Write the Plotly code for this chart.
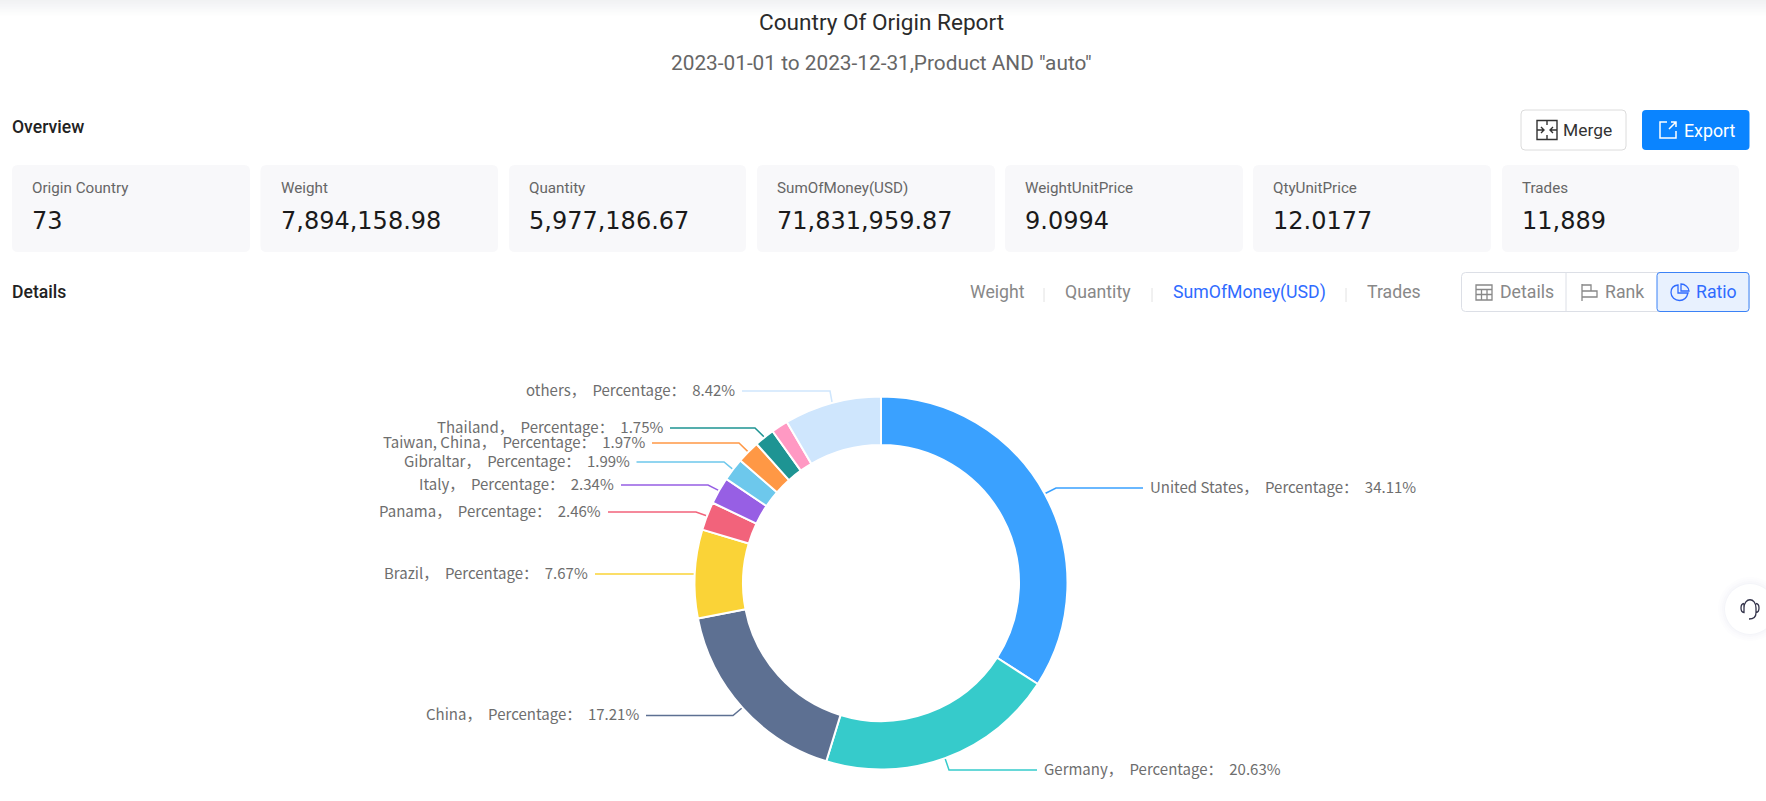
import math
import plotly.graph_objects as go

# ---------- data ----------
categories = ["United States", "Germany", "China", "Brazil", "Panama", "Italy", "Gibraltar",
              "Taiwan, China", "Thailand", "(no label)", "others"]
shares = [34.11, 20.63, 17.21, 7.67, 2.46, 2.34, 1.99, 1.97, 1.75, 1.45, 8.42]
card_titles = ["Origin Country", "Weight", "Quantity", "SumOfMoney(USD)", "WeightUnitPrice", "QtyUnitPrice", "Trades"]
card_values = ["73", "7,894,158.98", "5,977,186.67", "71,831,959.87", "9.0994", "12.0177", "11,889"]
metric_tabs = ["Weight", "Quantity", "SumOfMoney(USD)", "Trades"]
view_tabs = ["Details", "Rank", "Ratio"]
report_title = "Country Of Origin Report"
report_subtitle = '2023-01-01 to 2023-12-31,Product AND "auto"'

# ---------- styles / layout ----------
W, H = 1766, 801
colors = ["#3AA1FF", "#36CBCB", "#5D7092", "#FAD337", "#F2637B", "#975FE4", "#6DC8EC",
          "#FF9845", "#1E9493", "#FF99C3", "#CFE6FD"]
CX, CY, R = 881, 583, 186.5
LEADER_R = 187
HOLE = 0.74
UI = "Roboto"
LBL = "Noto Sans CJK SC"

# label placement: category -> (label y, elbow x, end x of leader)
leader = {
    "United States": (488, 1056, 1143),
    "Germany": (770, 949, 1037),
    "China": (715.5, 733, 646),
    "Brazil": (574, 694, 595),
    "Panama": (512, 696, 608),
    "Italy": (485, 708, 621),
    "Gibraltar": (462, 724, 636.5),
    "Taiwan, China": (443, 739, 652),
    "Thailand": (428, 755, 670),
    "others": (391, 830, 742),
}

card_x = [(12, 250), (260.5, 498), (509, 746), (757, 995), (1005, 1243), (1253, 1491), (1502, 1739)]
tab_x = [970, 1065, 1173, 1367]
tab_sep = [1044, 1152, 1346]
view_text_x = [1500, 1605, 1696]


def rrect(x0, y0, x1, y1, r):
    return (f"M{x0+r},{y0} L{x1-r},{y0} Q{x1},{y0} {x1},{y0+r} L{x1},{y1-r} Q{x1},{y1} {x1-r},{y1} "
            f"L{x0+r},{y1} Q{x0},{y1} {x0},{y1-r} L{x0},{y0+r} Q{x0},{y0} {x0+r},{y0} Z")


shapes = []
annotations = []


def path(d, fill=None, line=None, width=1):
    s = dict(type="path", xref="x", yref="y", path=d, layer="below",
             line=dict(color=line or "rgba(0,0,0,0)", width=width if line else 0))
    if fill:
        s["fillcolor"] = fill
    shapes.append(s)


def text(x, y, t, size=14, color="#666666", anchor="left", family=UI, weight=None):
    f = dict(family=family, size=size, color=color)
    if weight:
        f["weight"] = weight
    annotations.append(dict(xref="x", yref="y", x=x, y=y, text=t, showarrow=False, xanchor=anchor,
                            yanchor="middle", font=f, align=anchor, borderpad=0, borderwidth=0))


# top page shadow
for i in range(16):
    a = 0.085 * (1 - i / 16)
    path(f"M0,{i} L{W},{i} L{W},{i+1} L0,{i+1} Z", fill=f"rgba(90,100,120,{a:.3f})")

# header
text(CX, 22, report_title, size=22.6, color="#2b2b2b", anchor="center")
text(CX, 63, report_subtitle, size=20.8, color="#666666", anchor="center")
text(12, 127, "Overview", size=17.6, color="#222222", weight=500)
text(12, 292, "Details", size=17.6, color="#222222", weight=500)

# cards
for (x0, x1), t, v in zip(card_x, card_titles, card_values):
    path(rrect(x0, 165, x1, 252, 6), fill="#F8F8FA")
    text(x0 + 20, 188, t, size=15.2, color="#666666")
    text(x0 + 20, 221, v, size=24, color="#1A1A1A", family="DejaVu Sans", weight=500)

# merge / export buttons
path(rrect(1521, 110, 1626, 150, 4), fill="#FFFFFF", line="#DCDCDC", width=1)
text(1562.5, 130, "Merge", size=17.4, color="#333333")
path("M1537,120.5 L1557,120.5 L1557,139.5 L1537,139.5 Z M1547,120.5 L1547,125 M1547,135 L1547,139.5 "
     "M1537,130 L1544,130 M1550,130 L1557,130 M1541,127 L1544,130 L1541,133 M1553,127 L1550,130 L1553,133",
     line="#333333", width=1.4)
path(rrect(1642, 110, 1749.5, 150, 4), fill="#0A84FF")
text(1684, 130, "Export", size=17.8, color="#FFFFFF")
path("M1667,122 L1660,122 L1660,138 L1676,138 L1676,131 M1669,129 L1676,122 M1671,122 L1676,122 L1676,127",
     line="#FFFFFF", width=1.5)

# metric tabs
for x, t in zip(tab_x, metric_tabs):
    text(x, 292, t, size=17.7, color="#2F6BFF" if t == "SumOfMoney(USD)" else "#888888")
for x in tab_sep:
    path(f"M{x},288 L{x},302", line="#E2E2E2", width=1)

# view switch
path(rrect(1461.5, 272.5, 1749, 311.5, 4), fill="#FFFFFF", line="#DCDFE6", width=1)
path(f"M1566,272.5 L1566,311.5", line="#DCDFE6", width=1)
path(rrect(1657, 272.5, 1749, 311.5, 3), fill="#E8F1FE", line="#3B82F6", width=1)
for x, t in zip(view_text_x, view_tabs):
    text(x, 292, t, size=17.7, color="#2F6BFF" if t == "Ratio" else "#888888")
path("M1476,285 L1492,285 L1492,300 L1476,300 Z M1476,289.5 L1492,289.5 M1476,294.5 L1492,294.5 M1481.5,289.5 L1481.5,300 M1487,289.5 L1487,300",
     line="#888888", width=1.3)
path("M1582,284 L1582,301 M1582,285 L1591,285 L1591,291 L1582,291 M1582,291 L1597,291 L1597,297 L1582,297",
     line="#888888", width=1.3)
path("M1678,285 C1673,285.5 1671,289 1671,292.5 C1671,297 1675,300.5 1679.5,300.5 C1684,300.5 1687,297 1688,293 L1678,293 Z "
     "M1681,284 C1685,284 1689,287.5 1689,291 L1681,291 Z", line="#2F6BFF", width=1.3)

# floating help button
for r, a in [(32, 0.012), (30, 0.015), (28, 0.02), (26, 0.025)]:
    shapes.append(dict(type="circle", xref="x", yref="y", x0=1750 - r, x1=1750 + r, y0=609 - r, y1=609 + r,
                       fillcolor=f"rgba(100,120,170,{a})", line=dict(width=0), layer="below"))
shapes.append(dict(type="circle", xref="x", yref="y", x0=1725, x1=1775, y0=584, y1=634,
                   fillcolor="#FFFFFF", line=dict(width=0), layer="below"))
path("M1744,608 C1744,597 1756,597 1756,608 L1756,613 C1756,617 1753,619 1749,619 "
     "M1744,603.5 C1740,604 1740,612 1744,612.5 L1744,603.5 M1756,603.5 C1760,604 1760,612 1756,612.5",
     line="#33334A", width=1.3)

# ---------- traces ----------
traces = []
total = sum(shares)
cum = 0.0
for name, val, col in zip(categories, shares, colors):
    mid = (cum + val / 2) / total * 2 * math.pi
    cum += val
    if name not in leader:
        continue
    ly, ex, tx = leader[name]
    sx = CX + LEADER_R * math.sin(mid)
    sy = CY - LEADER_R * math.cos(mid)
    traces.append(go.Scatter(x=[sx, ex, tx], y=[sy, ly, ly], mode="lines", hoverinfo="skip", showlegend=False,
                             line=dict(color=col, width=1.5), xaxis="x", yaxis="y"))
    right_side = tx > ex
    label = f"{name}，\u00a0\u00a0Percentage：\u00a0\u00a0{val:.2f}%"
    text(tx + 7 if right_side else tx - 7, ly - 2, label, size=15, color="#6E6E6E",
         anchor="left" if right_side else "right", family=LBL)

traces.append(go.Pie(labels=categories, values=shares, sort=False, direction="clockwise", rotation=0,
                     hole=HOLE, textinfo="none", showlegend=False,
                     marker=dict(colors=colors, line=dict(color="#FFFFFF", width=2)),
                     domain=dict(x=[(CX - R) / W, (CX + R) / W], y=[(H - CY - R) / H, (H - CY + R) / H])))

fig = go.Figure(traces)
fig.update_layout(
    width=W, height=H, margin=dict(l=0, r=0, t=0, b=0), autosize=False,
    paper_bgcolor="#FFFFFF", plot_bgcolor="#FFFFFF", showlegend=False,
    xaxis=dict(range=[0, W], visible=False, fixedrange=True, domain=[0, 1]),
    yaxis=dict(range=[H, 0], visible=False, fixedrange=True, domain=[0, 1]),
    shapes=shapes, annotations=annotations,
)
fig.write_html("out.html", config=dict(displayModeBar=False),
               post_script="document.body.style.margin='0';document.documentElement.style.overflow='hidden';")
